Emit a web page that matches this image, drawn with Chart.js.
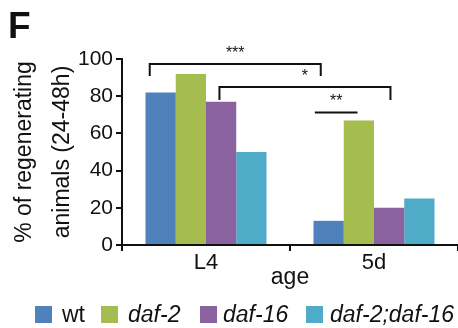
<!DOCTYPE html>
<html>
<head>
<meta charset="utf-8">
<script src="https://cdn.jsdelivr.net/npm/chart.js@4/dist/chart.umd.min.js"></script>
<style>
  html, body { margin: 0; padding: 0; background: #fff; }
  #wrap { position: relative; width: 458px; height: 328px; overflow: hidden; font-family: Arial, "Liberation Sans", sans-serif; }
  #panel { position: absolute; left: 8px; top: 5px; font-size: 37px; font-weight: bold; color: #111; }
  .lg-box { position: absolute; top: 306px; width: 17px; height: 17px; }
  .lg-txt { position: absolute; top: 301px; font-size: 23px; color: #111; white-space: nowrap; }
</style>
</head>
<body>
<div id="wrap">
  <canvas id="c" width="458" height="328"></canvas>
  <div id="panel">F</div>
</div>
<script>
// Daten
const ages = ['L4', '5d'];
const strains = ['wt', 'daf-2', 'daf-16', 'daf-2;daf-16'];
const italicName = [false, true, true, true];
const colors = ['#4f81bd', '#a5bc4e', '#8a62a0', '#4facc8'];
const wtValues = [82, 13];
const daf2Values = [92, 67];
const daf16Values = [77, 20];
const doubleValues = [50, 25];
const yTicks = [0, 20, 40, 60, 80, 100];

// Signifikanz-Klammern: [von (Kategorie), bis (Kategorie), Höhe, Beinlänge, Text]
const bracketFrom = [-0.335, 0.08, 0.648];
const bracketTo = [0.683, 1.098, 0.902];
const bracketY = [97.3, 85, 71.3];
const bracketLeg = [6.4, 7, 0];
const bracketText = ['***', '*', '**'];

const seriesValues = [wtValues, daf2Values, daf16Values, doubleValues];

// Legende als HTML (Kursiv für Gennamen)
const lgBoxLeft = [35, 101, 200, 306];
const lgTxtLeft = [62, 128, 223, 330];
const wrap = document.getElementById('wrap');
strains.forEach(function(name, i) {
    const box = document.createElement('div');
    box.className = 'lg-box';
    box.style.left = lgBoxLeft[i] + 'px';
    box.style.background = colors[i];
    wrap.appendChild(box);
    const txt = document.createElement('div');
    txt.className = 'lg-txt';
    txt.style.left = lgTxtLeft[i] + 'px';
    txt.style.fontStyle = italicName[i] ? 'italic' : 'normal';
    txt.textContent = name;
    wrap.appendChild(txt);
});

// Klammern zeichnen
const bracketPlugin = {
    id: 'brackets',
    afterDatasetsDraw: function(chart) {
        const ctx = chart.ctx;
        const xs = chart.scales.x;
        const ys = chart.scales.y;
        ctx.save();
        ctx.strokeStyle = '#111';
        ctx.fillStyle = '#111';
        ctx.lineWidth = 2;
        ctx.font = '16px Arial';
        ctx.textAlign = 'center';
        ctx.textBaseline = 'alphabetic';
        for (let i = 0; i < bracketText.length; i++) {
            const x1 = xs.getPixelForValue(bracketFrom[i]);
            const x2 = xs.getPixelForValue(bracketTo[i]);
            const y = ys.getPixelForValue(bracketY[i]);
            const yl = ys.getPixelForValue(bracketY[i] - bracketLeg[i]);
            ctx.beginPath();
            ctx.moveTo(x1, yl);
            ctx.lineTo(x1, y);
            ctx.lineTo(x2, y);
            ctx.lineTo(x2, yl);
            ctx.stroke();
            ctx.fillText(bracketText[i], (x1 + x2) / 2, y - 6);
        }
        ctx.restore();
    }
};

new Chart(document.getElementById('c'), {
    type: 'bar',
    data: {
        labels: ages,
        datasets: strains.map(function(name, i) {
            return {
                label: name,
                data: seriesValues[i],
                backgroundColor: colors[i],
                borderWidth: 0
            };
        })
    },
    options: {
        responsive: false,
        animation: false,
        categoryPercentage: 0.72,
        barPercentage: 1.0,
        layout: { padding: { top: 59, right: 0, bottom: 37, left: 0 } },
        plugins: {
            legend: { display: false },
            tooltip: { enabled: false }
        },
        scales: {
            x: {
                afterFit: function(scale) { scale.height = 46; },
                grid: { display: true, drawOnChartArea: false, drawTicks: true, tickLength: 6, color: '#111', lineWidth: 2, offset: true },
                border: { display: true, color: '#111', width: 2 },
                ticks: { color: '#111', font: { family: 'Arial', size: 22 }, padding: -1 },
                title: { display: true, text: 'age', color: '#111', font: { family: 'Arial', size: 23 }, padding: { top: 0, bottom: 0 } }
            },
            y: {
                min: 0,
                max: 100,
                afterBuildTicks: function(scale) {
                    scale.ticks = yTicks.map(function(v) { return { value: v }; });
                },
                afterFit: function(scale) { scale.width = 122; },
                grid: { display: true, drawOnChartArea: false, drawTicks: true, tickLength: 6, color: '#111', lineWidth: 2 },
                border: { display: true, color: '#111', width: 2 },
                ticks: { color: '#111', font: { family: 'Arial', size: 21 }, padding: 3 },
                title: {
                    display: true,
                    text: ['% of regenerating', 'animals (24-48h)'],
                    color: '#111',
                    font: { family: 'Arial', size: 23, lineHeight: 1.65 },
                    padding: { top: 6, bottom: 0 }
                }
            }
        }
    },
    plugins: [bracketPlugin]
});
</script>
</body>
</html>
